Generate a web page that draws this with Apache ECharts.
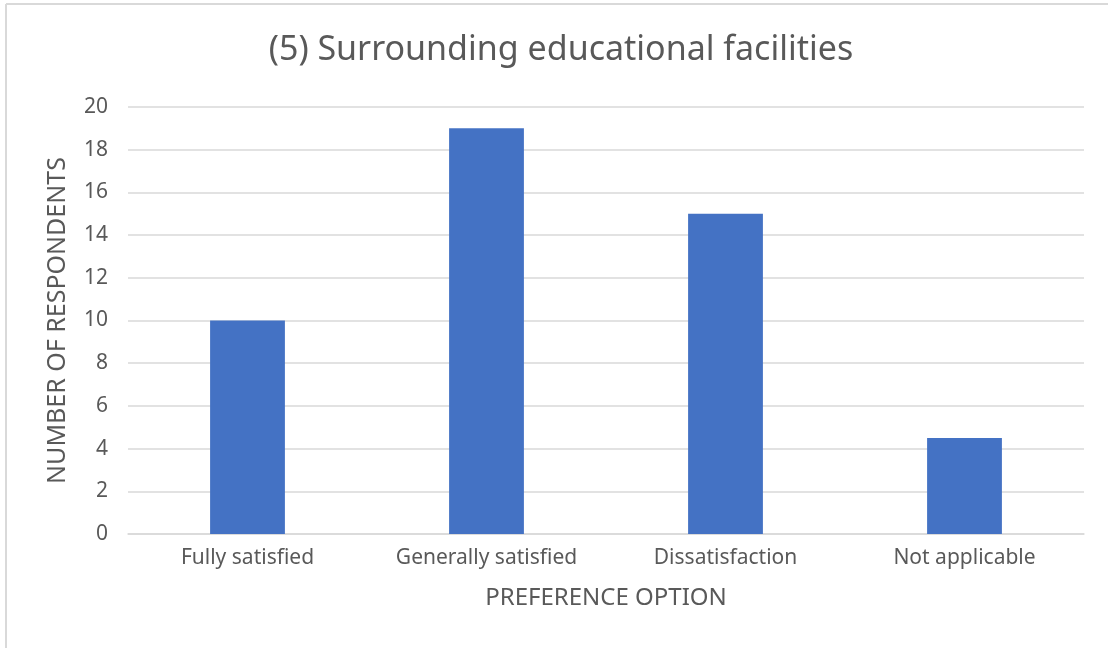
<!DOCTYPE html>
<html>
<head>
<meta charset="utf-8">
<script src="https://cdn.jsdelivr.net/npm/echarts@6/dist/echarts.min.js"></script>
<style>
  html, body { margin: 0; padding: 0; background: #fff; }
  #chart { width: 1108px; height: 648px; }
</style>
</head>
<body>
<div id="chart"></div>
<script>
// Survey answers for item (5)
const categories = ['Fully satisfied', 'Generally satisfied', 'Dissatisfaction', 'Not applicable'];
const respondents = [10, 19, 15, 4.5];
const chartTitle = '(5) Surrounding educational facilities';
const xAxisName = 'PREFERENCE OPTION';
const yAxisName = 'NUMBER OF RESPONDENTS';

const textColor = '#595959';
const gridColor = '#d9d9d9';
const fontFamily = '"Noto Sans", "Open Sans", sans-serif';

const chart = echarts.init(document.getElementById('chart'));
chart.setOption({
  backgroundColor: '#fff',
  animation: false,
  title: {
    text: chartTitle,
    left: 556,
    textAlign: 'center',
    top: 28,
    textStyle: { color: textColor, fontSize: 34, fontWeight: 'normal', fontFamily: fontFamily }
  },
  // frame edges along the top and left of the canvas
  graphic: [
    { type: 'line', silent: true, shape: { x1: 6, y1: 4, x2: 1108, y2: 4 }, style: { stroke: gridColor, lineWidth: 2 } },
    { type: 'line', silent: true, shape: { x1: 6, y1: 4, x2: 6, y2: 648 }, style: { stroke: gridColor, lineWidth: 2 } }
  ],
  grid: { left: 128, right: 24, top: 107, bottom: 114, containLabel: false },
  xAxis: {
    type: 'category',
    data: categories,
    name: xAxisName,
    nameLocation: 'middle',
    nameGap: 52,
    nameTextStyle: { color: textColor, fontSize: 24, fontFamily: fontFamily },
    axisLine: { lineStyle: { color: gridColor, width: 1.5 } },
    axisTick: { show: false },
    axisLabel: { color: textColor, fontSize: 21, margin: 14, fontFamily: fontFamily }
  },
  yAxis: {
    type: 'value',
    min: 0,
    max: 20,
    interval: 2,
    name: yAxisName,
    nameLocation: 'middle',
    nameGap: 58,
    nameTextStyle: { color: textColor, fontSize: 25, fontFamily: fontFamily },
    axisLine: { show: false },
    axisTick: { show: false },
    axisLabel: { color: textColor, fontSize: 21, margin: 20, fontFamily: fontFamily },
    splitLine: { lineStyle: { color: gridColor, width: 1.5 } }
  },
  series: [{
    type: 'bar',
    data: respondents,
    barWidth: '31.3%',
    itemStyle: { color: '#4472c4' }
  }]
});
</script>
</body>
</html>
